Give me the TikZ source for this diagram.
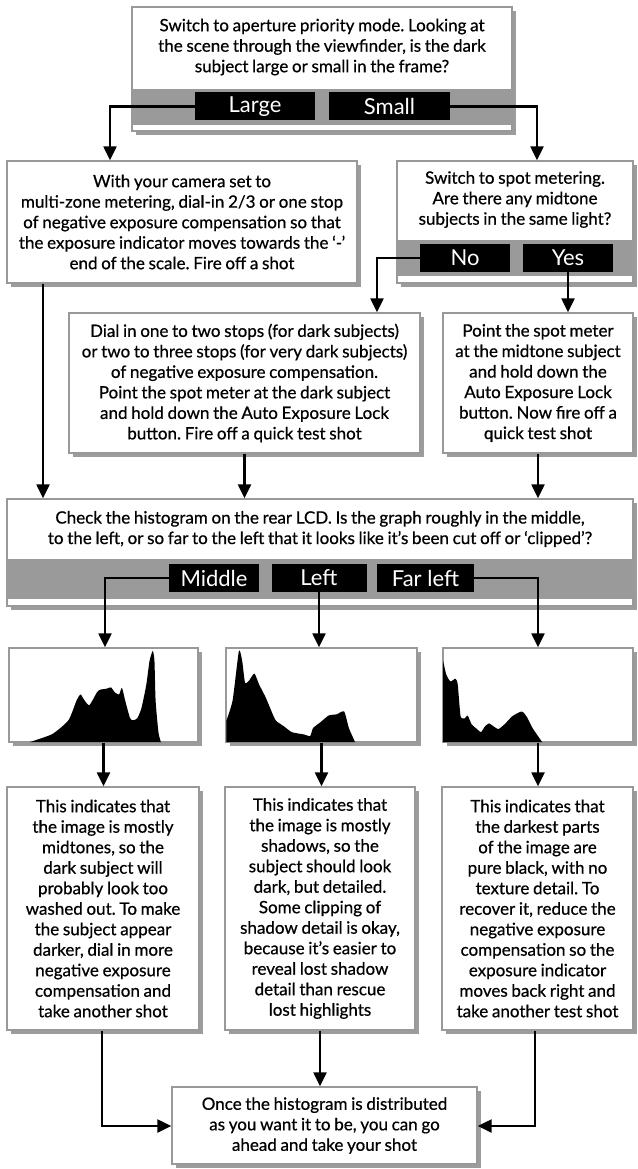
\documentclass[tikz,border=0pt]{standalone}
\usepackage{fontspec}
\setmainfont{Lato}[FakeBold=0.6, WordSpace=0.85]
\newfontfamily\tagface{Lato}
\usetikzlibrary{arrows.meta,shadows,calc}
\frenchspacing

\definecolor{edgegray}{HTML}{999999}
\definecolor{shadegray}{HTML}{9C9C9C}
\definecolor{bandgray}{HTML}{9A9A9A}

\newcommand\bodyfont{\fontsize{17}{20.5}\selectfont}
\newcommand\tagfont{\tagface\fontsize{22}{24}\selectfont}

\tikzset{
  panel/.style={draw=edgegray, line width=1.3pt, fill=white, inner sep=0pt,
    align=center, font=\bodyfont,
    drop shadow={shadow xshift=4pt, shadow yshift=-4pt, fill=shadegray, opacity=1}},
  plain/.style={inner sep=0pt, align=center, font=\bodyfont},
  tag/.style={fill=black, text=white, font=\tagfont, inner sep=0pt, minimum height=28pt},
  link/.style={line width=2.2pt, -{Triangle[length=14pt,width=13pt]}},
}

\begin{document}
\begin{tikzpicture}[x=1pt,y=-1pt]
\useasboundingbox (0,0) rectangle (637,1169);
\fill[white] (0,0) rectangle (637,1169);

% --- first question: size of the subject
\node[panel, minimum width=380pt, minimum height=124pt] (T) at (322,69) {};
\fill[bandgray] ([xshift=0.65pt,yshift=7pt]T.south west) rectangle ([xshift=-0.65pt,yshift=43pt]T.south east);
\node[plain] (Tt) at (322,47) {Switch to aperture priority mode. Looking at\\the scene through the viewfinder, is the dark\\subject large or small in the frame?};
\node[tag, minimum width=120pt] (Large) at (255,106.5) {Large};
\node[tag, minimum width=121pt] (Small) at (389.5,106.5) {Small};

% --- large subject: multi-zone metering
\node[panel, minimum width=350pt, minimum height=122pt] (L) at (182,222) {With your camera set to\\multi-zone metering, dial-in 2/3 or one stop\\of negative exposure compensation so that\\the exposure indicator moves towards the ‘-’\\end of the scale. Fire off a shot};

% --- small subject: spot metering question
\node[panel, minimum width=236pt, minimum height=122pt] (S) at (515,222) {};
\fill[bandgray] ([xshift=0.65pt,yshift=8pt]S.south west) rectangle ([xshift=-0.65pt,yshift=44pt]S.south east);
\node[plain] (St) at (515,199.5) {Switch to spot metering.\\Are there any midtone\\subjects in the same light?};
\node[tag, minimum width=90pt] (No) at (465,258) {No};
\node[tag, minimum width=90pt] (Yes) at (568,258) {Yes};

% --- spot metering outcomes
\node[panel, minimum width=351pt, minimum height=140pt] (D) at (244.5,383) {Dial in one to two stops (for dark subjects)\\or two to three stops (for very dark subjects)\\of negative exposure compensation.\\Point the spot meter at the dark subject\\and hold down the Auto Exposure Lock\\button. Fire off a quick test shot};
\node[panel, minimum width=190pt, minimum height=140pt] (P) at (538,383) {Point the spot meter\\at the midtone subject\\and hold down the\\Auto Exposure Lock\\button. Now fire off a\\quick test shot};

% --- histogram check
\node[panel, minimum width=626pt, minimum height=107pt] (C) at (320,552.5) {};
\fill[bandgray] ([xshift=0.65pt,yshift=8pt]C.south west) rectangle ([xshift=-0.65pt,yshift=48pt]C.south east);
\node[plain] (Ct) at (320,529) {Check the histogram on the rear LCD. Is the graph roughly in the middle,\\to the left, or so far to the left that it looks like it’s been cut off or ‘clipped’?};
\node[tag, minimum width=90pt] (Middle) at (214,578) {Middle};
\node[tag, minimum width=95pt] (Left) at (319,578) {Left};
\node[tag, minimum width=97pt] (Far) at (425.5,578) {Far left};

% --- histogram frames
\node[panel, minimum width=189pt, minimum height=94pt] (H1) at (103.5,695) {};
\node[panel, minimum width=191pt, minimum height=94pt] (H2) at (321.5,695) {};
\node[panel, minimum width=190pt, minimum height=94pt] (H3) at (538,695) {};

\begin{scope}[shift={([yshift=0.65pt]H1.south west)}, x=189pt, y=93pt]
\fill (0.114,0) -- plot[smooth, tension=0.35] coordinates {(0.114,0) (0.232,0.085) (0.318,0.234) (0.361,0.447) (0.382,0.511) (0.403,0.447) (0.429,0.396) (0.468,0.532) (0.485,0.562) (0.521,0.574) (0.543,0.587) (0.564,0.532) (0.586,0.511) (0.601,0.583) (0.618,0.447) (0.644,0.255) (0.661,0.234) (0.682,0.255) (0.704,0.362) (0.730,0.617) (0.747,0.872) (0.764,0.979) (0.773,0.872) (0.779,0.447) (0.794,0.106) (0.807,0)} -- cycle;
\end{scope}
\begin{scope}[shift={([yshift=0.65pt]H2.south west)}, x=191pt, y=93pt]
\fill (0.006,0) -- plot[smooth, tension=0.35] coordinates {(0.006,0.234) (0.038,0.447) (0.071,0.979) (0.088,0.872) (0.103,0.638) (0.124,0.660) (0.152,0.736) (0.177,0.617) (0.209,0.489) (0.231,0.383) (0.263,0.234) (0.306,0.170) (0.348,0.106) (0.412,0.081) (0.444,0.064) (0.459,0.149) (0.498,0.213) (0.541,0.285) (0.583,0.298) (0.622,0.328) (0.647,0.149) (0.679,0)} -- cycle;
\end{scope}
\begin{scope}[shift={([yshift=0.65pt]H3.south west)}, x=190pt, y=93pt]
\fill (0.004,0) -- plot[smooth, tension=0.35] coordinates {(0.004,0.872) (0.021,0.723) (0.043,0.651) (0.069,0.681) (0.081,0.617) (0.096,0.277) (0.118,0.255) (0.133,0.285) (0.154,0.191) (0.182,0.140) (0.203,0.106) (0.225,0.170) (0.246,0.200) (0.268,0.170) (0.296,0.140) (0.332,0.200) (0.368,0.277) (0.418,0.328) (0.445,0.268) (0.475,0.149) (0.525,0)} -- cycle;
\end{scope}

% --- verdicts
\node[panel, minimum width=192pt, minimum height=243pt] (B1) at (103,908.5) {This indicates that\\the image is mostly\\midtones, so the\\dark subject will\\probably look too\\washed out. To make\\the subject appear\\darker, dial in more\\negative exposure\\compensation and\\take another shot};
\node[panel, minimum width=190pt, minimum height=243pt] (B2) at (320,908.5) {This indicates that\\the image is mostly\\shadows, so the\\subject should look\\dark, but detailed.\\Some clipping of\\shadow detail is okay,\\because it’s easier to\\reveal lost shadow\\detail than rescue\\lost highlights};
\node[panel, minimum width=191pt, minimum height=243pt] (B3) at (537.5,908.5) {This indicates that\\the darkest parts\\of the image are\\pure black, with no\\texture detail. To\\recover it, reduce the\\negative exposure\\compensation so the\\exposure indicator\\moves back right and\\take another test shot};

% --- final step
\node[panel, minimum width=305pt, minimum height=77pt] (F) at (324.5,1125.5) {Once the histogram is distributed\\as you want it to be, you can go\\ahead and take your shot};

% --- connectors
\coordinate (k1) at (110,106.5);
\draw[link] (Large.west) -- (k1) -- (k1 |- L.north);
\coordinate (k2) at (537,106.5);
\draw[link] (Small.east) -- (k2) -- (k2 |- S.north);
\coordinate (k3) at (43,0);
\draw[link] (k3 |- L.south) -- (k3 |- C.north);
\coordinate (k4) at (377,258);
\draw[link] (No.west) -- (k4) -- (k4 |- D.north);
\draw[link] (Yes.south) -- (Yes.south |- P.north);
\draw[link] (D.south) -- (D.south |- C.north);
\draw[link] (P.south) -- (P.south |- C.north);
\coordinate (k5) at (105,578);
\draw[link] (Middle.west) -- (k5) -- (k5 |- H1.north);
\draw[link] (Left.south) -- (Left.south |- H2.north);
\coordinate (k6) at (538,578);
\draw[link] (Far.east) -- (k6) -- (k6 |- H3.north);
\draw[link] (H1.south) -- (H1.south |- B1.north);
\draw[link] (H2.south) -- (H2.south |- B2.north);
\draw[link] (H3.south) -- (H3.south |- B3.north);
\coordinate (k7) at (102,1126);
\draw[link] (B1.south -| k7) -- (k7) -- (k7 -| F.west);
\draw[link] (B2.south) -- (B2.south |- F.north);
\coordinate (k8) at (535,1126);
\draw[link] (B3.south -| k8) -- (k8) -- (k8 -| F.east);
\end{tikzpicture}
\end{document}
